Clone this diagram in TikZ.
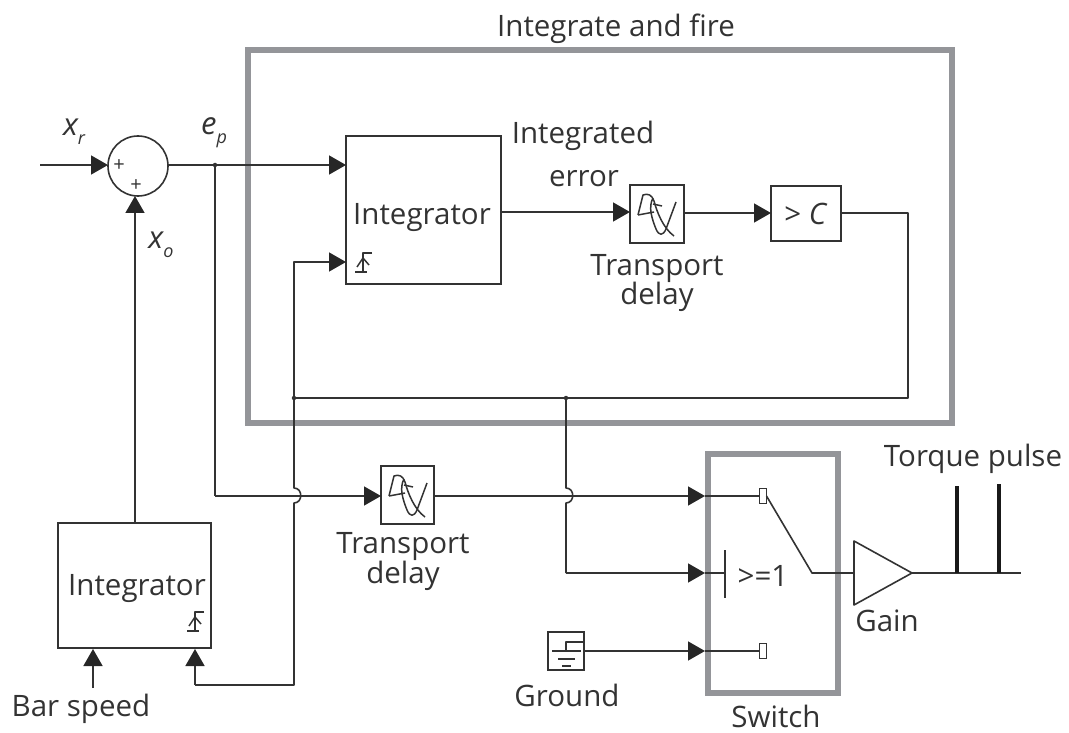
\documentclass[tikz,border=0pt]{standalone}
\usepackage{fontspec}
\setmainfont{Open Sans}
\usetikzlibrary{arrows.meta}
\definecolor{ink}{HTML}{333333}
\definecolor{frame}{HTML}{949599}
\newcommand{\fs}[1]{\fontsize{#1}{#1}\selectfont}
\newcommand{\varsub}[2]{{\fs{31}\itshape #1\raisebox{-9pt}{\fs{18}\itshape #2}}}
\tikzset{
  x=1pt,y=-1pt,
  every node/.style={text=ink,inner sep=0pt,outer sep=0pt},
  wire/.style={draw=ink,line width=1.6pt,line join=round},
  arr/.style={wire,-{Triangle[length=17pt,width=19pt,color=black!85]}},
  blockbox/.style={draw=ink,line width=1.6pt,fill=white,rectangle,anchor=north west},
  grayframe/.style={draw=frame,line width=5.5pt,rectangle,anchor=north west},
  lbl/.style={font=\fs{29.5},anchor=base},
  plus/.style={font=\fs{20}},
  dot/.style={circle,fill=ink,minimum size=4.5pt},
  pin/.style={draw=ink,line width=1.3pt,fill=white,rectangle,minimum width=7pt,minimum height=15pt},
  pulse/.style={draw=black!90,line width=4pt},
  icon/.style={draw=ink,line width=1.5pt,line join=round},
  delayicon/.pic={
    \draw[icon] (8,30) -- (13,10) .. controls (18,8) and (22,10) .. (24,16)
      .. controls (27,27) and (33,43) .. (44,51);
    \draw[icon] (8,30) -- (24,27);
    \draw[icon] (23,19) -- (32,21);
    \draw[icon] (46,17) -- (36,44) .. controls (33,51) and (29,51) .. (26,44)
      .. controls (22,34) and (18,22) .. (23,13);
  },
  reseticon/.pic={
    \draw[icon] (17,-19) -- (8,-19) -- (8,0);
    \draw[icon] (0,0) -- (12,0);
    \draw[icon] (2,-5) -- (8,-14) -- (14,-7);
  }
}
\begin{document}
\begin{tikzpicture}
\useasboundingbox (0,0) rectangle (1069,733);
% frames
\node[grayframe,minimum width=704pt,minimum height=373pt] (fireFrame) at (248,50) {};
\node[grayframe,minimum width=130pt,minimum height=239pt] (switchFrame) at (708,454) {};
% blocks
\node[circle,draw=ink,line width=1.6pt,fill=white,minimum size=60pt] (sum) at (138,166) {};
\node[blockbox,minimum width=155pt,minimum height=148pt] (intTop) at (346,136) {};
\node[blockbox,minimum width=54pt,minimum height=58pt] (delayTop) at (630,185) {};
\node[blockbox,minimum width=70pt,minimum height=55pt] (cmp) at (771,186) {};
\node[blockbox,minimum width=153pt,minimum height=125pt] (intBot) at (58,523) {};
\node[blockbox,minimum width=53pt,minimum height=58pt] (delayBot) at (381,466) {};
\node[blockbox,minimum width=36pt,minimum height=38pt] (ground) at (548,632) {};
\node[pin] (pinTop) at (763,496) {};
\node[pin] (pinBot) at (763,651) {};
% named points
\coordinate (inR) at (40,165);
\coordinate (sumW) at (108,165);
\coordinate (sumE) at (168,165);
\coordinate (ep) at (215,165);
\coordinate (intIn) at (346,165);
\coordinate (intReset) at (346,262);
\coordinate (jFb) at (294,398);
\coordinate (jSw) at (566,398);
\coordinate (cornerC) at (908,213);
\coordinate (cornerD) at (908,398);
\coordinate (swIn1) at (705,496);
\coordinate (swIn2) at (705,573);
\coordinate (swIn3) at (705,651);
\coordinate (bar) at (725,573);
\coordinate (swMid) at (812,573);
\coordinate (barSpeed) at (93,688);
\coordinate (barTip) at (93,649);
\coordinate (resetTip) at (195,649);
\coordinate (resetCorner) at (195,685);
\coordinate (fbCorner) at (294,685);
\coordinate (outEnd) at (1021,573);
% connectors
\draw[arr] (inR) -- (sumW);
\draw[wire] (sumE) -- (ep);
\draw[arr] (ep) -- (intIn);
\draw[arr] (135,523) -- (135,196);
\draw[arr] (501,212) -- (630,212);
\draw[arr] (684,213) -- (771,213);
\draw[wire] (841,213) -- (cornerC) -- (cornerD) -- (jFb);
\draw[arr] (jFb) -- (294,262) -- (intReset);
\draw[wire] (jFb) -- (294,488) .. controls (303,488) and (303,503) .. (294,503) -- (fbCorner) -- (resetCorner);
\draw[arr] (resetCorner) -- (resetTip);
\draw[arr] (barSpeed) -- (barTip);
\draw[wire] (ep) -- (215,496);
\draw[arr] (215,496) -- (381,496);
\draw[arr] (434,496) -- (swIn1);
\draw[wire] (swIn1) -- (pinTop.west);
\draw[wire] (jSw) -- (566,488) .. controls (575,488) and (575,503) .. (566,503) -- (566,573);
\draw[arr] (566,573) -- (swIn2);
\draw[wire] (swIn2) -- (bar);
\draw[wire] (725,550) -- (725,598);
\draw[arr] (ground.east) -- (swIn3);
\draw[wire] (swIn3) -- (pinBot.west);
\draw[wire] (pinTop.east) -- (swMid) -- (853,573);
\draw[wire,fill=white] (854,541) -- (912,573) -- (854,605) -- cycle;
\draw[wire] (912,573) -- (outEnd);
\draw[pulse] (957,573) -- (957,486);
\draw[pulse] (999,573) -- (999,484);
\node[dot] (dotEp) at (ep) {};
\node[dot] (dotFb) at (jFb) {};
\node[dot] (dotSw) at (jSw) {};
% icons
\pic at (630,185) {delayicon};
\pic at (381,466) {delayicon};
\pic at (355,272) {reseticon};
\pic at (187,631) {reseticon};
\draw[icon] (552,651) -- (581,651);
\draw[icon] (566,651) -- (566,642) -- (584,642);
\draw[icon] (558,659) -- (575,659);
\draw[icon] (562,666) -- (571,666);
% labels
\node[lbl] (tFire) at (616,37) {Integrate and fire};
\node[lbl] (tInt1) at (583,144) {Integrated};
\node[lbl] (tInt2) at (584,186) {error};
\node[lbl] (tIntTop) at (422,224) {Integrator};
\node[lbl] (tIntBot) at (137,595) {Integrator};
\node[lbl] (tDelay1) at (657,275) {Transport};
\node[lbl] (tDelay2) at (657,304) {delay};
\node[lbl] (tDelay3) at (403,553) {Transport};
\node[lbl] (tDelay4) at (403,583) {delay};
\node[lbl] (tBar) at (81,716) {Bar speed};
\node[lbl] (tGround) at (567,706) {Ground};
\node[lbl] (tSwitch) at (776,727) {Switch};
\node[lbl] (tGain) at (887,631) {Gain};
\node[lbl] (tTorque) at (973,466) {Torque pulse};
\node[lbl] (tGe) at (763,586) {>=1};
\node[lbl] (tC) at (806,224) {> \textit{C}};
\node[plus] (p1) at (119,166) {+};
\node[plus] (p2) at (136,186) {+};
\node[anchor=base] (tXr) at (74,136) {\varsub{x}{r}};
\node[anchor=base] (tEp) at (214,135) {\varsub{e}{p}};
\node[anchor=base] (tXo) at (161,248) {\varsub{x}{o}};
\end{tikzpicture}
\end{document}
